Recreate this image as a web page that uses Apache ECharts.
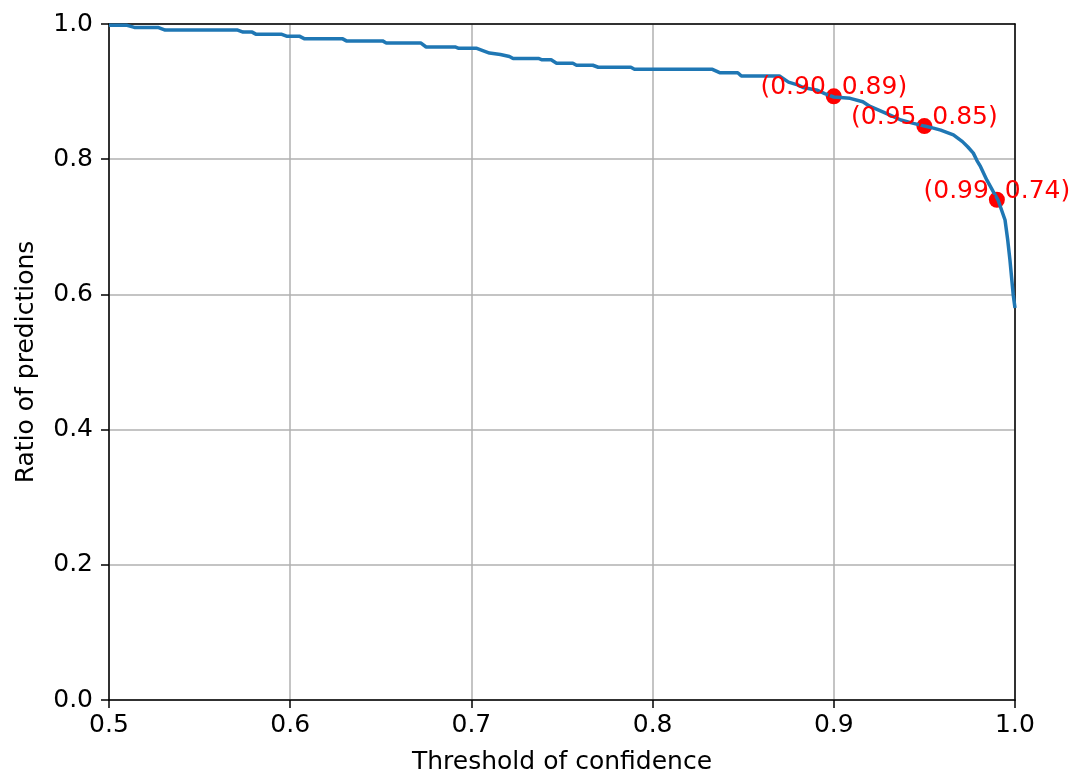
<!DOCTYPE html>
<html>
<head>
<meta charset="utf-8">
<script src="https://cdn.jsdelivr.net/npm/echarts@6/dist/echarts.min.js"></script>
<style>
html,body{margin:0;padding:0;background:#fff;}
#chart{width:1076px;height:781px;}
</style>
</head>
<body>
<div id="chart"></div>
<script>
// Curve: threshold of confidence vs ratio of predictions
const thresholds = [0.500,0.510,0.514,0.527,0.531,0.571,0.574,0.579,0.581,0.595,0.598,0.605,0.608,0.629,0.631,0.651,0.653,0.672,0.675,0.691,0.693,0.703,0.707,0.710,0.716,0.721,0.723,0.737,0.739,0.744,0.747,0.756,0.758,0.767,0.770,0.788,0.790,0.833,0.837,0.847,0.849,0.870,0.875,0.880,0.883,0.891,0.895,0.900,0.909,0.916,0.920,0.927,0.932,0.937,0.944,0.950,0.955,0.959,0.966,0.971,0.974,0.977,0.979,0.981,0.9845,0.988,0.9906,0.9945,0.996,0.9972,0.999,1.000];
const ratios     = [0.998,0.998,0.995,0.995,0.991,0.991,0.988,0.988,0.985,0.985,0.982,0.982,0.978,0.978,0.975,0.975,0.972,0.972,0.966,0.966,0.964,0.964,0.960,0.957,0.955,0.952,0.949,0.949,0.947,0.947,0.942,0.942,0.939,0.939,0.936,0.936,0.933,0.933,0.928,0.928,0.923,0.923,0.914,0.910,0.906,0.902,0.897,0.892,0.890,0.885,0.878,0.870,0.864,0.858,0.853,0.849,0.846,0.843,0.836,0.826,0.818,0.809,0.798,0.789,0.769,0.752,0.740,0.710,0.680,0.651,0.600,0.580];

// Highlighted points
const markX = [0.90, 0.95, 0.99];
const markY = [0.893, 0.849, 0.740];
const markLabels = ['(0.90, 0.89)', '(0.95, 0.85)', '(0.99, 0.74)'];

// Axis ticks
const xTicks = [0.5, 0.6, 0.7, 0.8, 0.9, 1.0];
const yTicks = [0.0, 0.2, 0.4, 0.6, 0.8, 1.0];

const FONT = 'DejaVu Sans';
const FS = 25;
const curve = thresholds.map((x, i) => [x, ratios[i]]);
const marks = markX.map((x, i) => ({ value: [x, markY[i]], name: markLabels[i] }));
const fmt = ticks => v => { const t = ticks.find(k => Math.abs(k - v) < 1e-9); return t === undefined ? '' : t.toFixed(1); };

const chart = echarts.init(document.getElementById('chart'), null, { renderer: 'canvas' });
chart.setOption({
  animation: false,
  backgroundColor: '#ffffff',
  grid: { left: 109, right: 61, top: 24, bottom: 81 },
  xAxis: [{
    type: 'value', min: 0.5, max: 1.0, interval: 0.1,
    name: 'Threshold of confidence', nameLocation: 'middle', nameGap: 50,
    nameTextStyle: { fontFamily: FONT, fontSize: FS, color: '#000' },
    axisLine: { show: true, onZero: false, lineStyle: { color: '#000', width: 1.5 } },
    axisTick: { show: true, inside: false, length: 8, lineStyle: { color: '#000', width: 1.5 } },
    axisLabel: { fontFamily: FONT, fontSize: FS, color: '#000', margin: 13, formatter: fmt(xTicks) },
    splitLine: { show: true, lineStyle: { color: '#b0b0b0', width: 1.5 } }
  }, {
    type: 'value', min: 0.5, max: 1.0, interval: 0.1, position: 'top',
    axisLine: { show: true, onZero: false, lineStyle: { color: '#000', width: 1.5 } },
    axisTick: { show: false }, axisLabel: { show: false }, splitLine: { show: false }
  }],
  yAxis: [{
    type: 'value', min: 0, max: 1.0, interval: 0.2,
    name: 'Ratio of predictions', nameLocation: 'middle', nameGap: 70, nameRotate: 90,
    nameTextStyle: { fontFamily: FONT, fontSize: FS, color: '#000' },
    axisLine: { show: true, onZero: false, lineStyle: { color: '#000', width: 1.5 } },
    axisTick: { show: true, inside: false, length: 8, lineStyle: { color: '#000', width: 1.5 } },
    axisLabel: { fontFamily: FONT, fontSize: FS, color: '#000', margin: 16, formatter: fmt(yTicks) },
    splitLine: { show: true, lineStyle: { color: '#b0b0b0', width: 1.5 } }
  }, {
    type: 'value', min: 0, max: 1.0, interval: 0.2, position: 'right',
    axisLine: { show: true, onZero: false, lineStyle: { color: '#000', width: 1.5 } },
    axisTick: { show: false }, axisLabel: { show: false }, splitLine: { show: false }
  }],
  series: [
    {
      type: 'scatter', data: marks, symbol: 'circle', symbolSize: 16,
      itemStyle: { color: '#ff0000', opacity: 1 }, z: 1, clip: false,
      emphasis: { disabled: true }
    },
    {
      type: 'line', data: curve, showSymbol: false, symbol: 'none', clip: false,
      lineStyle: { color: '#1f77b4', width: 3.5 }, z: 2, emphasis: { disabled: true }
    },
    {
      type: 'scatter', data: marks, symbol: 'circle', symbolSize: 16,
      itemStyle: { color: 'rgba(0,0,0,0)', opacity: 1 }, z: 3, clip: false,
      label: { show: true, position: [8, 12], align: 'center', verticalAlign: 'bottom', formatter: p => p.name,
        fontFamily: FONT, fontSize: FS, color: '#ff0000', opacity: 1 },
      emphasis: { disabled: true },
      labelLayout: { hideOverlap: false }
    }
  ]
});
</script>
</body>
</html>
